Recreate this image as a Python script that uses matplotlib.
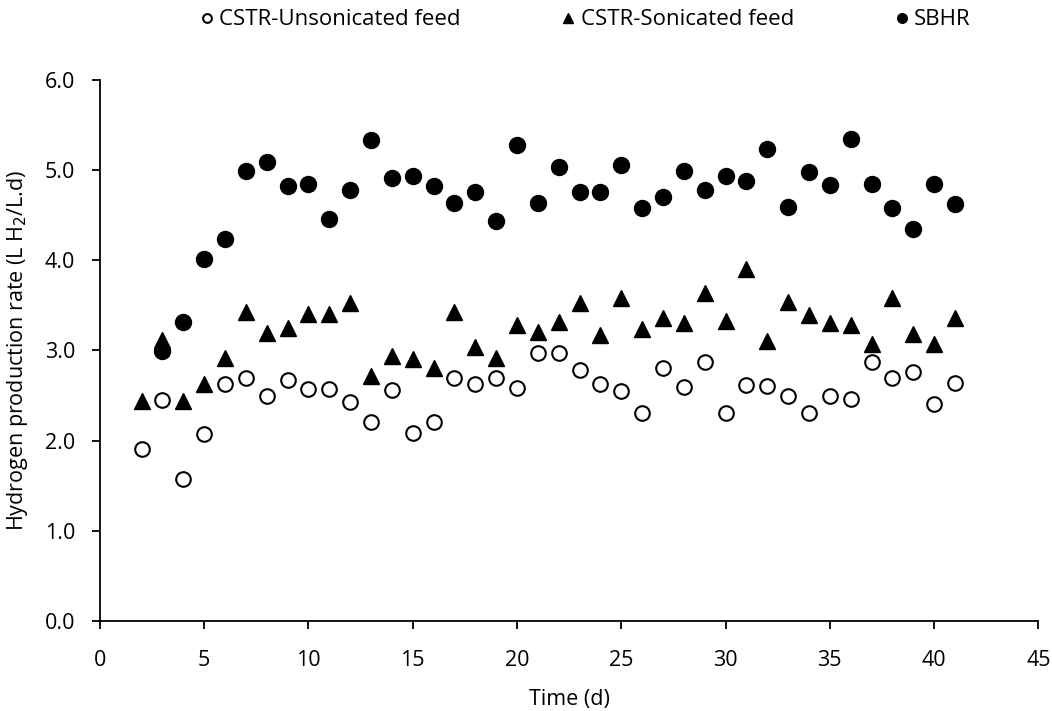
import matplotlib
matplotlib.use("Agg")
import matplotlib.pyplot as plt
from matplotlib.ticker import FormatStrFormatter

plt.rcParams['font.family'] = ['Open Sans', 'DejaVu Sans']

# hydrogen production rates per day for the three reactor setups
days_unsonicated = list(range(2, 42))
unsonicated = [1.91, 2.45, 1.58, 2.07, 2.63, 2.70, 2.50, 2.67, 2.57, 2.57,
               2.43, 2.21, 2.56, 2.09, 2.21, 2.70, 2.63, 2.70, 2.58, 2.97,
               2.97, 2.78, 2.63, 2.55, 2.31, 2.81, 2.60, 2.87, 2.31, 2.62,
               2.61, 2.49, 2.31, 2.49, 2.46, 2.87, 2.69, 2.76, 2.41, 2.64]

days_sonicated = list(range(2, 42))
sonicated = [2.44, 3.12, 2.44, 2.63, 2.92, 3.43, 3.19, 3.25, 3.41, 3.41,
             3.53, 2.72, 2.94, 2.91, 2.81, 3.43, 3.04, 2.92, 3.28, 3.21,
             3.32, 3.53, 3.17, 3.58, 3.24, 3.36, 3.30, 3.64, 3.33, 3.90,
             3.10, 3.54, 3.39, 3.31, 3.28, 3.07, 3.58, 3.18, 3.07, 3.36]

days_sbhr = list(range(3, 42))
sbhr = [2.99, 3.32, 4.02, 4.24, 4.99, 5.09, 4.82, 4.85, 4.46, 4.78,
        5.33, 4.91, 4.94, 4.82, 4.64, 4.76, 4.44, 5.28, 4.64, 5.04,
        4.76, 4.76, 5.06, 4.58, 4.70, 4.99, 4.78, 4.93, 4.88, 5.24,
        4.59, 4.98, 4.83, 5.35, 4.85, 4.58, 4.35, 4.85, 4.63]

fs = 15.5

fig = plt.figure(figsize=(10.52, 7.11), dpi=100)
ax = fig.add_axes([0.095, 0.1266, 0.892, 0.7609])

ax.plot(days_unsonicated, unsonicated, linestyle='none', marker='o',
        markersize=10.5, markerfacecolor='white', markeredgecolor='black',
        markeredgewidth=1.5, label='CSTR-Unsonicated feed')
ax.plot(days_sonicated, sonicated, linestyle='none', marker='^',
        markersize=11, color='black', label='CSTR-Sonicated feed')
ax.plot(days_sbhr, sbhr, linestyle='none', marker='o',
        markersize=11.5, color='black', label='SBHR')

ax.set_xlim(0, 45)
ax.set_ylim(0, 6)
ax.set_xticks(range(0, 46, 5))
ax.set_yticks(range(0, 7))
ax.yaxis.set_major_formatter(FormatStrFormatter('%.1f'))
ax.tick_params(direction='out', length=6, width=1.3, labelsize=fs, colors='black')
ax.tick_params(axis='y', pad=12)
ax.tick_params(axis='x', pad=15)

for side in ('top', 'right'):
    ax.spines[side].set_visible(False)
for side in ('left', 'bottom'):
    ax.spines[side].set_linewidth(1.3)

ax.set_xlabel('Time (d)', fontsize=fs)
ax.set_ylabel('Hydrogen production rate (L H$_2$/L.d)', fontsize=fs)
ax.xaxis.set_label_coords(0.5, -0.125)
ax.yaxis.set_label_coords(-0.074, 0.5)

handles, labels = ax.get_legend_handles_labels()
fig.legend(handles, labels, loc='center', bbox_to_anchor=(0.557, 0.972),
           ncol=3, frameon=False, fontsize=fs + 0.5, markerscale=0.6,
           handlelength=0.5, handletextpad=0.3, columnspacing=4.6)

fig.savefig('out.png', dpi=100)
